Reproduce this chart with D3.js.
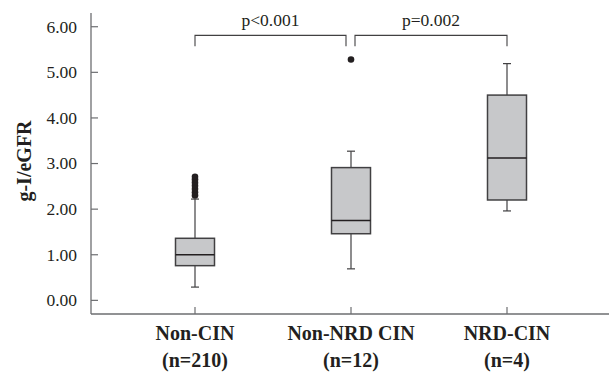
<!DOCTYPE html>
<html><head><meta charset="utf-8">
<script src="https://cdn.jsdelivr.net/npm/d3@7"></script>
<style>body{margin:0;background:#fff}svg{display:block}text{font-family:"Liberation Serif","DejaVu Serif",serif;fill:#231f20}</style>
</head><body><svg id="c" width="609" height="372"></svg>
<script>
const categories = ["Non-CIN", "Non-NRD CIN", "NRD-CIN"];
const sampleSizes = ["(n=210)", "(n=12)", "(n=4)"];
const whiskerLow = [0.28, 0.68, 1.95];
const q1 = [0.75, 1.45, 2.19];
const median = [0.99, 1.74, 3.11];
const q3 = [1.35, 2.90, 4.49];
const whiskerHigh = [2.21, 3.26, 5.18];
const outliers = [[2.29, 2.36, 2.43, 2.50, 2.57, 2.64, 2.70], [5.27], []];
const yTicks = [0, 1, 2, 3, 4, 5, 6];
const comparisons = [{a: 0, b: 1, label: "p<0.001"}, {a: 1, b: 2, label: "p=0.002"}];
const bracketValue = 5.8;

const svg = d3.select("#c");
const y = d3.scaleLinear().domain([-0.31, 6.29]).range([314, 13]);
const x = d3.scaleBand().domain(categories).range([117, 585]);
const cx = c => x(c) + x.bandwidth() / 2;
const boxW = 39;
const axisCol = "#6d6e71", boxStroke = "#414042", fill = "#c7c8ca";

// y axis
const yAxis = d3.axisRight(y).tickValues(yTicks).tickSize(7).tickFormat(d3.format(".2f"));
const gy = svg.append("g").attr("transform", "translate(91,0)").call(yAxis);
gy.select(".domain").remove();
gy.selectAll(".tick line").attr("stroke", axisCol).attr("stroke-width", 1.2);
gy.selectAll(".tick text").attr("x", -14).attr("text-anchor", "end").attr("dy", "0.34em")
  .style("font-size", "17.5px").attr("fill", "#231f20");
svg.append("line").attr("x1", 91).attr("x2", 91).attr("y1", y(6.29)).attr("y2", y(-0.31))
  .attr("stroke", axisCol).attr("stroke-width", 1.3);

// x axis
const gx = svg.append("g").attr("transform", "translate(0,314)")
  .call(d3.axisTop(x).tickSize(7).tickFormat(""));
gx.select(".domain").remove();
gx.selectAll(".tick line").attr("stroke", axisCol).attr("stroke-width", 1.2);
svg.append("line").attr("x1", 91).attr("x2", 609).attr("y1", 314).attr("y2", 314)
  .attr("stroke", axisCol).attr("stroke-width", 1.3);

categories.forEach((c, i) => {
  svg.append("text").attr("x", cx(c)).attr("y", 340).attr("text-anchor", "middle")
    .style("font-size", "20px").style("font-weight", "bold").text(c);
  svg.append("text").attr("x", cx(c)).attr("y", 367).attr("text-anchor", "middle")
    .style("font-size", "20px").style("font-weight", "bold").text(sampleSizes[i]);
});

// y label
svg.append("text").attr("transform", `translate(31,161) rotate(-90)`).attr("text-anchor", "middle")
  .style("font-size", "20px").style("font-weight", "bold").text("g-I/eGFR");

// boxes
const g = svg.append("g");
categories.forEach((c, i) => {
  const m = cx(c);
  g.append("line").attr("x1", m).attr("x2", m).attr("y1", y(whiskerHigh[i])).attr("y2", y(q3[i]))
    .attr("stroke", boxStroke).attr("stroke-width", 1.2);
  g.append("line").attr("x1", m).attr("x2", m).attr("y1", y(q1[i])).attr("y2", y(whiskerLow[i]))
    .attr("stroke", boxStroke).attr("stroke-width", 1.2);
  [whiskerHigh[i], whiskerLow[i]].forEach(v => g.append("line")
    .attr("x1", m - 4).attr("x2", m + 4).attr("y1", y(v)).attr("y2", y(v))
    .attr("stroke", boxStroke).attr("stroke-width", 1.2));
  g.append("rect").attr("x", m - boxW / 2).attr("width", boxW).attr("y", y(q3[i]))
    .attr("height", y(q1[i]) - y(q3[i])).attr("fill", fill).attr("stroke", boxStroke).attr("stroke-width", 1.5);
  g.append("line").attr("x1", m - boxW / 2).attr("x2", m + boxW / 2).attr("y1", y(median[i])).attr("y2", y(median[i]))
    .attr("stroke", "#231f20").attr("stroke-width", 1.6);
  outliers[i].forEach(v => g.append("circle").attr("cx", m).attr("cy", y(v)).attr("r", 3.3).attr("fill", "#231f20"));
});

// brackets
comparisons.forEach((cmp, k) => {
  const x1 = cx(categories[cmp.a]) + (k === 1 ? 4 : 0);
  const x2 = cx(categories[cmp.b]) - (k === 0 ? 5 : 0);
  const yt = y(bracketValue), yb = yt + 11;
  svg.append("path").attr("d", `M${x1},${yb}V${yt}H${x2}V${yb}`).attr("fill", "none")
    .attr("stroke", boxStroke).attr("stroke-width", 1.1);
  svg.append("text").attr("x", (x1 + x2) / 2).attr("y", yt - 9).attr("text-anchor", "middle")
    .style("font-size", "17.5px").text(cmp.label);
});
</script></body></html>
